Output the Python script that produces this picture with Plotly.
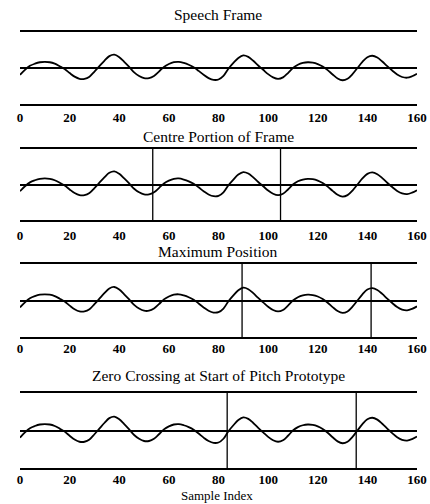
import plotly.graph_objects as go
from plotly.subplots import make_subplots

# Data
sample_index = list(range(0, 161, 2))
speech = [
    -0.19, -0.05, 0.06, 0.12, 0.16, 0.17, 0.16, 0.12, 0.05, -0.03,
    -0.14, -0.24, -0.30, -0.30, -0.24, -0.10, 0.05, 0.20, 0.33, 0.37,
    0.30, 0.17, 0.03, -0.12, -0.22, -0.28, -0.28, -0.22, -0.10, 0.03,
    0.11, 0.16, 0.17, 0.14, 0.09, 0.02, -0.08, -0.19, -0.28, -0.33,
    -0.32, -0.22, -0.02, 0.14, 0.28, 0.35, 0.31, 0.20, 0.07, -0.05,
    -0.17, -0.26, -0.30, -0.26, -0.14, 0.00, 0.09, 0.14, 0.16, 0.15,
    0.11, 0.04, -0.06, -0.18, -0.29, -0.34, -0.30, -0.17, 0.00, 0.17,
    0.30, 0.34, 0.29, 0.18, 0.05, -0.07, -0.18, -0.25, -0.27, -0.23,
    -0.16,
]
titles = ["Speech Frame", "Centre Portion of Frame", "Maximum Position",
          "Zero Crossing at Start of Pitch Prototype"]
markers = [[], [53.5, 105.0], [89.5, 141.5], [83.5, 135.5]]
tick_vals = [0, 20, 40, 60, 80, 100, 120, 140, 160]
x_label = "Sample Index"

W, H = 430, 504
# panel pixel extents (top, bottom)
panels_px = [(32, 104), (149, 220), (264, 337), (393, 468)]
title_px = [14, 137, 251, 375]
standoffs = [0, 2, -2, -2]
x0_px, x1_px = 20, 417

fig = make_subplots(rows=4, cols=1)

serif = "Liberation Serif"
for i in range(4):
    r = i + 1
    fig.add_trace(go.Scatter(x=sample_index, y=speech, mode="lines",
                             line=dict(color="black", width=1.8, shape="spline"),
                             showlegend=False, hoverinfo="skip"), row=r, col=1)
    top, bot = panels_px[i]
    xa = "xaxis" if i == 0 else f"xaxis{r}"
    ya = "yaxis" if i == 0 else f"yaxis{r}"
    fig.layout[xa].update(domain=[x0_px / W, x1_px / W], range=[0, 160],
                          automargin=False,
                          showline=True, mirror=True, linecolor="black", linewidth=2,
                          showgrid=False, zeroline=False, ticks="",
                          tickvals=tick_vals, ticklabelstandoff=standoffs[i],
                          tickfont=dict(family=serif, size=13, color="black", weight="bold"))
    fig.layout[ya].update(domain=[1 - bot / H, 1 - top / H], range=[-1, 1],
                          automargin=False,
                          showline=False, showgrid=False, showticklabels=False,
                          zeroline=True, zerolinecolor="black", zerolinewidth=1.6,
                          ticks="")
    xref = "x" if i == 0 else f"x{r}"
    yref = "y domain" if i == 0 else f"y{r} domain"
    for m in markers[i]:
        fig.add_shape(type="line", x0=m, x1=m, y0=0, y1=1, xref=xref, yref=yref,
                      line=dict(color="black", width=1.3))
    fig.add_annotation(text=titles[i], x=0.5 * (x0_px + x1_px) / W, y=1 - title_px[i] / H,
                       xref="paper", yref="paper", showarrow=False,
                       xanchor="center", yanchor="middle",
                       font=dict(family=serif, size=15.5, color="black"))

fig.add_annotation(text=x_label, x=217 / W, y=1 - 495 / H, xref="paper", yref="paper",
                   showarrow=False, xanchor="center", yanchor="middle",
                   font=dict(family=serif, size=13, color="black"))

fig.update_layout(width=W, height=H, margin=dict(l=0, r=0, t=0, b=0),
                  plot_bgcolor="white", paper_bgcolor="white")
fig.write_html("out.html", config={"displayModeBar": False},
               post_script="document.body.style.margin='0';"
                           "document.documentElement.style.overflow='hidden';")
